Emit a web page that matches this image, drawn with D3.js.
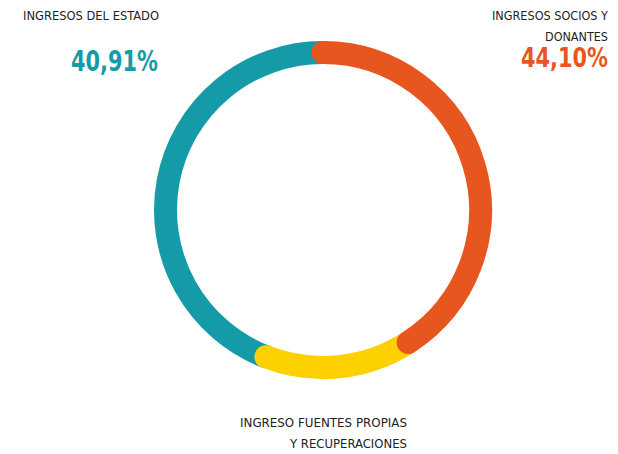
<!DOCTYPE html>
<html>
<head>
<meta charset="utf-8">
<script src="https://cdn.jsdelivr.net/npm/d3@7/dist/d3.min.js"></script>
<style>
  html, body { margin: 0; padding: 0; background: #fff; }
  svg { display: block; }
</style>
</head>
<body>
<svg id="chart" width="618" height="454"></svg>
<script>
// Data (arc shares, clockwise from top)
const categories = ["Ingresos socios y donantes", "Ingreso fuentes propias y recuperaciones", "Ingresos del Estado"];
const values = [40.91, 14.99, 44.10];
const colors = ["#E8561F", "#FDD000", "#159BA7"];

// Text labels as printed in the reference
const labelLines = [
  ["INGRESOS SOCIOS Y", "DONANTES"],
  ["INGRESO FUENTES PROPIAS", "Y RECUPERACIONES"],
  ["INGRESOS DEL ESTADO"]
];
const percentLabels = ["44,10%", null, "40,91%"];

const svg = d3.select("#chart");
const cx = 323, cy = 210, r = 157.5, thick = 23;

const pie = d3.pie().sort(null).value(d => d)(values);
const g = svg.append("g").attr("transform", `translate(${cx},${cy})`);

// draw in reverse so first segment lies on top
const order = d3.range(pie.length).reverse();
order.forEach(i => {
  const p = d3.path();
  const a0 = pie[i].startAngle - Math.PI / 2;
  const a1 = pie[i].endAngle - Math.PI / 2;
  p.moveTo(r * Math.cos(a0), r * Math.sin(a0));
  p.arc(0, 0, r, a0, a1, false);
  g.append("path")
    .attr("d", p.toString())
    .attr("fill", "none")
    .attr("stroke", colors[i])
    .attr("stroke-width", thick)
    .attr("stroke-linecap", "round");
});

const font = "'DejaVu Sans Condensed', 'Liberation Sans Narrow', 'Roboto', sans-serif";
function txt(x, y, s, opts) {
  const t = svg.append("text")
    .attr("x", x).attr("y", y)
    .attr("font-family", font)
    .attr("font-size", opts.size)
    .attr("font-weight", opts.weight || "normal")
    .attr("fill", opts.color || "#222")
    .attr("text-anchor", opts.anchor || "start")
    .text(s);
  if (opts.len) t.attr("textLength", opts.len).attr("lengthAdjust", "spacingAndGlyphs");
  return t;
}

// Estado (teal) label top-left
txt(23, 20, labelLines[2][0], {size: 13, len: 136});
txt(71, 71, percentLabels[2], {size: 28, weight: "bold", color: colors[2], len: 87});

// Socios y donantes (orange) label top-right
txt(608, 20, labelLines[0][0], {size: 13, anchor: "end", len: 116});
txt(608, 40.7, labelLines[0][1], {size: 12.5, anchor: "end", len: 63});
txt(608, 66.7, percentLabels[0], {size: 26.5, weight: "bold", color: colors[0], anchor: "end", len: 87});

// Fuentes propias (yellow) label bottom
txt(407, 427, labelLines[1][0], {size: 13, anchor: "end", len: 167});
txt(407, 448, labelLines[1][1], {size: 13, anchor: "end", len: 117});
</script>
</body>
</html>
